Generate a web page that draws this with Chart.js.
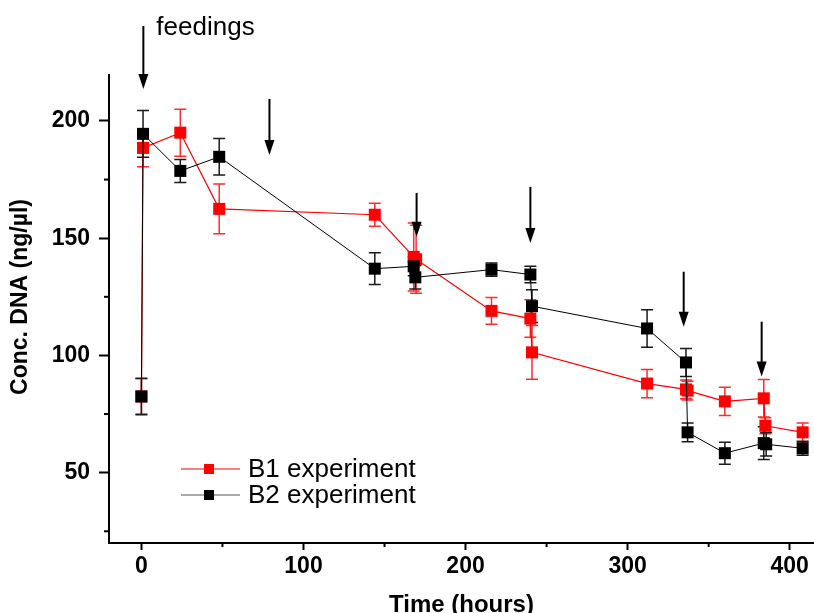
<!DOCTYPE html>
<html>
<head>
<meta charset="utf-8">
<script src="https://cdn.jsdelivr.net/npm/chart.js@4.4.1/dist/chart.umd.min.js"></script>
<style>
  html, body { margin: 0; padding: 0; background: #fff; }
  canvas { display: block; }
</style>
</head>
<body>
<canvas id="chart" width="814" height="613"></canvas>
<script>
/* ---- data: time (hours) vs DNA conc. (ng/µl) ---- */
const timeB1 = [0, 1, 24, 48, 144, 168, 169.5, 216, 240, 241, 312, 336, 337, 360, 384, 385, 408];
const concB1 = [82.5, 188.5, 195, 162.5, 160, 142, 141, 119, 115.7, 101.3, 88, 85.5, 85, 80.4, 81.7, 70, 67.2];
const errB1  = [7.5, 8, 10, 10.6, 4.9, 14.5, 14.5, 5.7, 8, 11.5, 6, 4, 4, 6, 8, 3.4, 4];

const timeB2 = [0, 1, 24, 48, 144, 168, 169, 216, 240, 241, 312, 336, 337, 360, 384, 385.5, 408];
const concB2 = [82.5, 194.5, 178.7, 184.7, 137, 138, 133.3, 136.6, 134.5, 121, 111.5, 97, 67.2, 58.3, 62.6, 62.1, 60.4];
const errB2  = [7.8, 10, 4.9, 7.8, 6.8, 4, 5, 2.8, 3.5, 7, 8, 6, 4, 4.7, 7, 5, 3];

const seriesNames = ["B1 experiment", "B2 experiment"];

// feeding arrows (time, arrow start, arrow tip in conc units)
const feedTimes    = [1.2, 79, 169.8, 240, 334.6, 382.7];
const feedArrowTop = [240.5, 209.4, 169.3, 171.9, 135.7, 114.4];
const feedArrowTip = [213.6, 185.5, 150.6, 148, 112.2, 91];

const xTicks = [0, 100, 200, 300, 400];
const yTicks = [50, 100, 150, 200];
const xLimits = [-20, 415];
const yLimits = [20, 219.6];

/* ---- helpers ---- */
const FONT = "'Liberation Sans', Arial, sans-serif";
const RED = "#ff0000";
const BLACK = "#000000";

const toPoints = (xs, ys) => xs.map((x, i) => ({ x, y: ys[i] }));

function drawMinorTicks(ctx, scale, len, horizontal, area) {
  const t = scale.ticks;
  const step = t[1].value - t[0].value;
  for (let v = t[0].value - step / 2; v <= scale.max; v += step) {
    if (v < scale.min) continue;
    const p = scale.getPixelForValue(v);
    ctx.beginPath();
    if (horizontal) { ctx.moveTo(p, area.bottom); ctx.lineTo(p, area.bottom + len); }
    else { ctx.moveTo(area.left, p); ctx.lineTo(area.left - len, p); }
    ctx.stroke();
  }
}

/* ---- plugins ---- */
const errorBars = {
  id: "errorBars",
  beforeDatasetsDraw(chart) {
    const { ctx, scales: { x, y } } = chart;
    chart.data.datasets.forEach(ds => {
      ctx.save();
      ctx.strokeStyle = ds.errColor;
      ctx.lineWidth = 1.5;
      ds.data.forEach((p, i) => {
        const px = x.getPixelForValue(p.x);
        const top = y.getPixelForValue(p.y + ds.err[i]);
        const bot = y.getPixelForValue(p.y - ds.err[i]);
        ctx.beginPath();
        ctx.moveTo(px, top); ctx.lineTo(px, bot);
        ctx.moveTo(px - 6, top); ctx.lineTo(px + 6, top);
        ctx.moveTo(px - 6, bot); ctx.lineTo(px + 6, bot);
        ctx.stroke();
      });
      ctx.restore();
    });
  }
};

const extras = {
  id: "extras",
  afterDraw(chart) {
    const { ctx, chartArea: area, scales: { x, y } } = chart;
    ctx.save();

    // minor ticks
    ctx.strokeStyle = BLACK;
    ctx.lineWidth = 2;
    drawMinorTicks(ctx, x, 4, true, area);
    drawMinorTicks(ctx, y, 5, false, area);

    // feeding arrows
    ctx.fillStyle = BLACK;
    feedTimes.forEach((t, i) => {
      const px = x.getPixelForValue(t);
      const y0 = y.getPixelForValue(feedArrowTop[i]);
      const y1 = y.getPixelForValue(feedArrowTip[i]);
      ctx.beginPath();
      ctx.moveTo(px, y0); ctx.lineTo(px, y1 - 10);
      ctx.stroke();
      ctx.beginPath();
      ctx.moveTo(px - 5, y1 - 15);
      ctx.lineTo(px + 5, y1 - 15);
      ctx.lineTo(px, y1);
      ctx.closePath();
      ctx.fill();
    });

    ctx.font = "26px " + FONT;
    ctx.textAlign = "left";
    ctx.textBaseline = "alphabetic";
    ctx.fillText("feedings", x.getPixelForValue(feedTimes[0]) + 13, y.getPixelForValue(feedArrowTop[0]) + 9);

    // legend
    const rows = [area.top + 394, area.top + 420];
    chart.data.datasets.forEach((ds, i) => {
      const ry = rows[i];
      const lx = area.left + 72;
      ctx.strokeStyle = i === 0 ? RED : "#555555";
      ctx.lineWidth = 1.2;
      ctx.beginPath();
      ctx.moveTo(lx, ry); ctx.lineTo(lx + 59, ry);
      ctx.stroke();
      ctx.fillStyle = ds.borderColor;
      ctx.fillRect(lx + 23, ry - 5, 10, 10);
      ctx.fillStyle = BLACK;
      ctx.font = "26px " + FONT;
      ctx.textBaseline = "middle";
      ctx.fillText(seriesNames[i], lx + 67, ry + 1);
    });

    // y axis title
    ctx.translate(21, 297);
    ctx.rotate(-Math.PI / 2);
    ctx.font = "bold 23px " + FONT;
    ctx.textAlign = "center";
    ctx.textBaseline = "middle";
    ctx.fillText("Conc. DNA (ng/\u00b5l)", 0, 0);

    ctx.restore();
  }
};

/* ---- chart ---- */
new Chart(document.getElementById("chart"), {
  type: "line",
  data: {
    datasets: [
      {
        label: seriesNames[0],
        data: toPoints(timeB1, concB1),
        err: errB1,
        errColor: "#ff2b2b",
        borderColor: RED,
        backgroundColor: RED,
        borderWidth: 1.2,
        pointStyle: "rect",
        pointRadius: 8.5,
        pointBorderWidth: 0,
        order: 2
      },
      {
        label: seriesNames[1],
        data: toPoints(timeB2, concB2),
        err: errB2,
        errColor: "#1a1a1a",
        borderColor: BLACK,
        backgroundColor: BLACK,
        borderWidth: 1,
        pointStyle: "rect",
        pointRadius: 8.5,
        pointBorderWidth: 0,
        order: 1
      }
    ]
  },
  options: {
    responsive: false,
    animation: false,
    layout: { autoPadding: false, padding: { top: 75, right: 0, left: 0, bottom: 0 } },
    plugins: {
      legend: { display: false },
      tooltip: { enabled: false }
    },
    scales: {
      x: {
        type: "linear",
        min: xLimits[0],
        max: xLimits[1],
        afterBuildTicks: s => { s.ticks = xTicks.map(v => ({ value: v })); },
        afterFit: s => { s.height = 70; s.paddingLeft = 0; s.paddingRight = 0; },
        border: { color: BLACK, width: 2 },
        grid: { drawOnChartArea: false, drawTicks: true, tickLength: 7, tickColor: BLACK, tickWidth: 2 },
        ticks: {
          color: BLACK,
          padding: 3,
          maxRotation: 0,
          autoSkip: false,
          font: { family: FONT, size: 23, weight: "bold" }
        },
        title: {
          display: true,
          text: "Time (hours)",
          color: BLACK,
          padding: { top: 0, bottom: -6 },
          font: { family: FONT, size: 24, weight: "bold", lineHeight: 1.1 }
        }
      },
      y: {
        type: "linear",
        min: yLimits[0],
        max: yLimits[1],
        afterBuildTicks: s => { s.ticks = yTicks.map(v => ({ value: v })); },
        afterFit: s => { s.width = 109; s.paddingTop = 0; s.paddingBottom = 0; },
        border: { color: BLACK, width: 2 },
        grid: { drawOnChartArea: false, drawTicks: true, tickLength: 10, tickColor: BLACK, tickWidth: 2 },
        ticks: {
          color: BLACK,
          padding: 9,
          autoSkip: false,
          font: { family: FONT, size: 23, weight: "bold" }
        }
      }
    }
  },
  plugins: [errorBars, extras]
});
</script>
</body>
</html>
